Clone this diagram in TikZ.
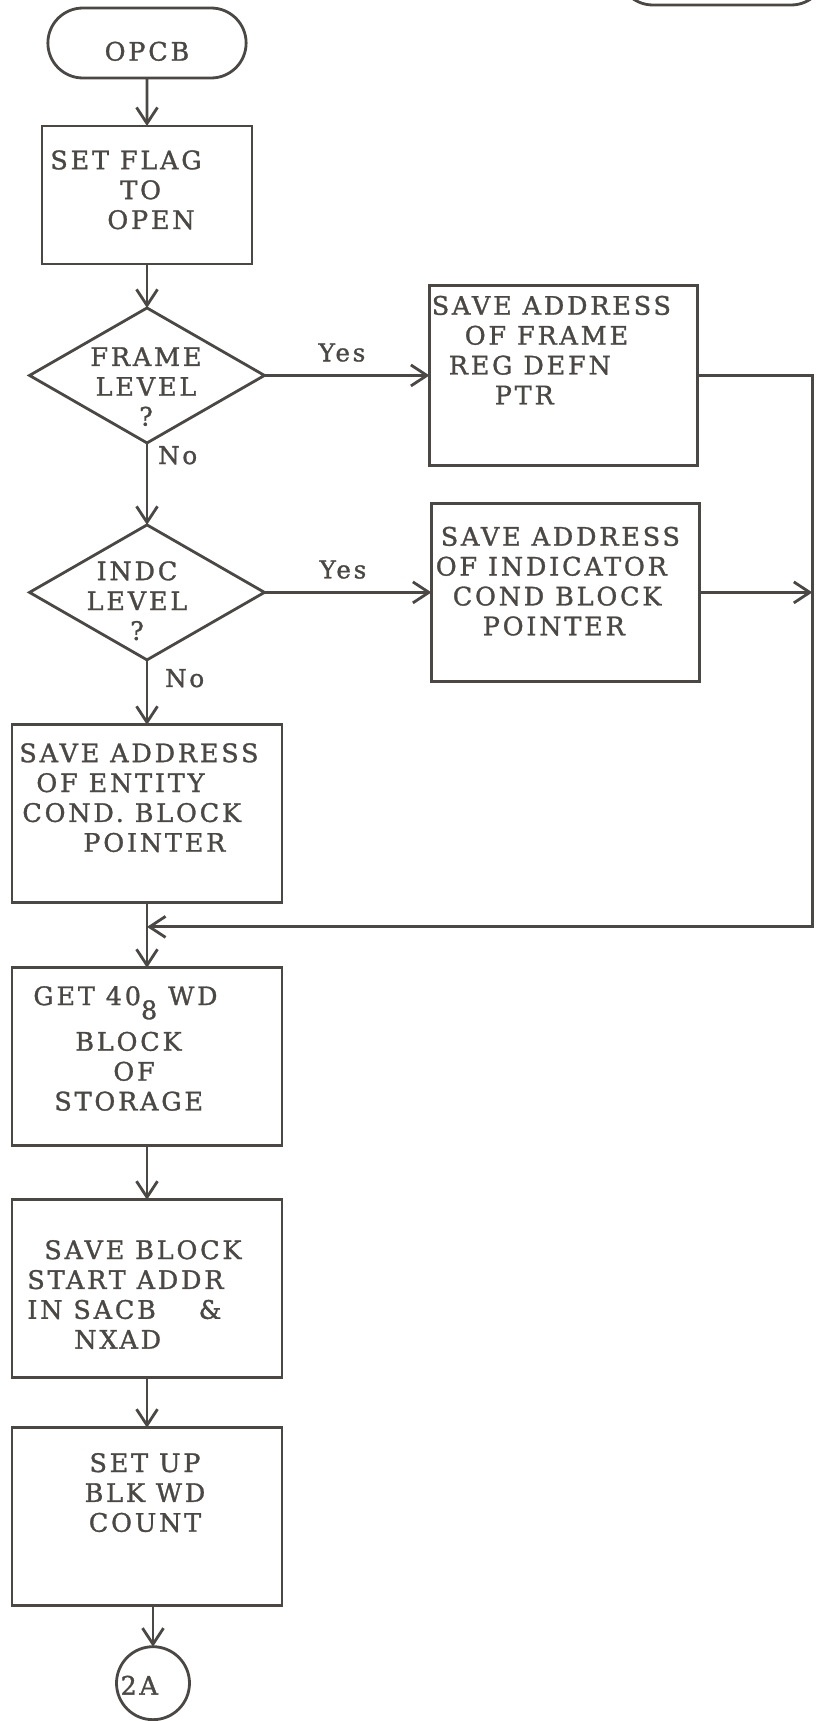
\documentclass[tikz,border=0pt]{standalone}
\usepackage{fontspec}
\setmainfont{DejaVu Serif}[LetterSpace=11, FakeBold=1.2]
\usetikzlibrary{arrows.meta, positioning, shapes.geometric, shapes.misc, calc}
\definecolor{ink}{RGB}{74,71,68}
\tikzset{
    box/.style={
        draw=ink,
        line width=1.6pt,
        minimum width=5.4cm,
        minimum height=3.56cm,
        inner sep=0pt,
        outer sep=0pt
    },
    terminal/.style={
        rounded rectangle,
        draw=ink,
        line width=1.6pt,
        minimum width=4.2cm,
        minimum height=1.4cm,
        outer sep=0pt
    },
    decision/.style={
        diamond,
        draw=ink,
        line width=1.6pt,
        minimum width=4.7cm,
        minimum height=2.7cm,
        inner sep=0pt,
        outer sep=0pt
    },
    offpage/.style={
        circle,
        draw=ink,
        line width=1.6pt,
        minimum size=1.46cm,
        inner sep=0pt,
        outer sep=0pt
    },
    txt/.style={inner sep=0pt, align=left},
    ctxt/.style={inner sep=0pt, align=center},
    line/.style={-{Straight Barb[length=3.2mm, width=4.2mm]}, line width=1.6pt, draw=ink},
    tag/.style={inner sep=1pt, font=\fontsize{14}{16}\selectfont},
    every node/.style={font=\fontsize{14.5}{17}\selectfont, text=ink}
}

\begin{document}
\begin{tikzpicture}[x=0.02cm, y=-0.02cm]
\useasboundingbox (0,0) rectangle (817,1721);

\node[terminal, minimum width=4.4cm] (prevpage) at (722,-30) {};
\node[terminal, text height=20pt, text depth=0pt] (opcb) at (147,43) {OPCB};
\node[box, minimum width=4.2cm, minimum height=2.76cm, below=0.96cm of opcb] (setflag) {};
\node[decision, below=0.88cm of setflag] (frame) {};
\node[box, minimum width=5.36cm, minimum height=3.6cm, right=3.3cm of frame] (framebox) {};
\node[decision, below=1.64cm of frame] (indc) {};
\node[box, minimum width=5.36cm, right=3.34cm of indc] (indcbox) {};
\node[box, below=1.3cm of indc] (entity) {};
\node[box, below=1.3cm of entity] (getblk) {};
\node[box, below=1.08cm of getblk] (saveblk) {};
\node[box, below=1.0cm of saveblk] (setup) {};
\node[offpage, text height=13pt, text depth=0pt, below=0.82cm of setup, xshift=0.12cm] (p2a) {2A\kern0.55cm};

% texts inside the shapes
\node[txt, anchor=north west] (setflag-t) at ([shift={(8,24)}]setflag.north west)
    {SET FLAG\\\hspace*{1.4cm}TO\\\hspace*{1.14cm}OPEN};
\node[ctxt, anchor=north] (frame-t) at ([shift={(-1,39)}]frame.north) {FRAME\\LEVEL\\?};
\node[txt, anchor=north west] (framebox-t) at ([shift={(2,10)}]framebox.north west)
    {SAVE ADDRESS\\\hspace*{0.66cm}OF FRAME\\\hspace*{0.34cm}REG DEFN\\\hspace*{1.26cm}PTR};
\node[ctxt, anchor=north] (indc-t) at ([shift={(-10,36)}]indc.north) {INDC\\LEVEL\\?};
\node[txt, anchor=north west] (indcbox-t) at ([shift={(4,23)}]indcbox.north west)
    {\hspace*{0.1cm}SAVE ADDRESS\\OF INDICATOR\\\hspace*{0.34cm}COND BLOCK\\\hspace*{0.94cm}POINTER};
\node[txt, anchor=north west] (entity-t) at ([shift={(7,18)}]entity.north west)
    {SAVE ADDRESS\\\hspace*{0.34cm}OF ENTITY\\\hspace*{0.06cm}COND.\ BLOCK\\\hspace*{1.28cm}POINTER};
\node[txt, anchor=north west] (getblk-t) at ([shift={(21,18)}]getblk.north west)
    {GET 40\raisebox{-8pt}{8} WD\\[6pt]\hspace*{0.84cm}BLOCK\\\hspace*{1.6cm}OF\\\hspace*{0.42cm}STORAGE};
\node[txt, anchor=north west] (saveblk-t) at ([shift={(15,40)}]saveblk.north west)
    {\hspace*{0.34cm}SAVE BLOCK\\START ADDR\\IN SACB\hspace{0.64cm} \&\\\hspace*{0.94cm}NXAD};
\node[ctxt, anchor=north] (setup-t) at ([shift={(-2,25)}]setup.north) {SET UP\\BLK WD\\COUNT};

\coordinate (rail) at ([xshift=2.3cm]framebox.east);
\coordinate (merge) at ($(entity.south)!0.37!(getblk.north)$);

\draw[line] (opcb) -- (setflag);
\draw[line] (setflag) -- (frame);
\draw[line] (frame) -- node[tag, pos=0.47, above=6pt] (yes1) {Yes} (framebox);
\draw[line] (frame) -- node[tag, pos=0, anchor=north west, xshift=0.16cm] (no1) {No} (indc);
\draw[line] (indc) -- node[tag, pos=0.47, above=6pt] (yes2) {Yes} (indcbox);
\draw[line] (indc) -- node[tag, pos=0, anchor=north west, xshift=0.3cm, yshift=-0.12cm] (no2) {No} (entity);
\draw[line] (framebox) -- (rail) |- (merge);
\draw[line] (indcbox) -- (indcbox -| rail);
\draw[line] (entity) -- (getblk);
\draw[line] (getblk) -- (saveblk);
\draw[line] (saveblk) -- (setup);
\draw[line] (setup.south -| p2a) -- (p2a);
\end{tikzpicture}
\end{document}
